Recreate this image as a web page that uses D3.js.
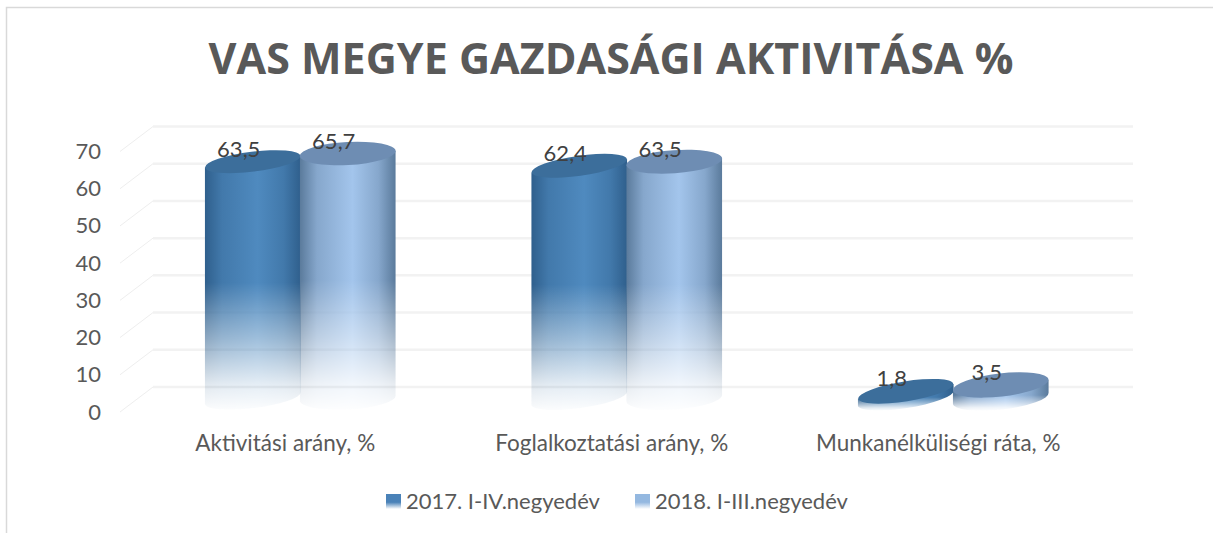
<!DOCTYPE html>
<html>
<head>
<meta charset="utf-8">
<script src="https://cdn.jsdelivr.net/npm/d3@7"></script>
<style>
  html, body { margin: 0; padding: 0; background: #fff; }
  text { font-family: Lato, "Open Sans", sans-serif; fill: #595959; }
</style>
</head>
<body>
<div id="chart"></div>
<script>
// values
const categories = ["Aktivitási arány, %", "Foglalkoztatási arány, %", "Munkanélküliségi ráta, %"];
const seriesNames = ["2017. I-IV.negyedév", "2018. I-III.negyedév"];
const values2017 = [63.5, 62.4, 1.8];
const values2018 = [65.7, 63.5, 3.5];
const yTicks = [0, 10, 20, 30, 40, 50, 60, 70];

const width = 1213, height = 533;

const svg = d3.select("#chart").append("svg")
  .attr("width", width)
  .attr("height", height)
  .style("display", "block");

const defs = svg.append("defs");

// colours per series: edge, centre, top ellipse
const looks = [
  { edge: "#2f5f8c", mid: "#4f8abf", top: "#3c6e9b", ry: 10 },
  { edge: "#5a7a9b", mid: "#a3c5ec", top: "#6e8db3", ry: 11.5 }
];

looks.forEach(function(l, i) {
  const g = defs.append("linearGradient").attr("id", "side" + i);
  g.append("stop").attr("offset", "0%").attr("stop-color", l.edge);
  g.append("stop").attr("offset", "18%").attr("stop-color", d3.interpolateRgb(l.edge, l.mid)(0.6));
  g.append("stop").attr("offset", "55%").attr("stop-color", l.mid);
  g.append("stop").attr("offset", "82%").attr("stop-color", d3.interpolateRgb(l.edge, l.mid)(0.6));
  g.append("stop").attr("offset", "100%").attr("stop-color", l.edge);
});

// fade to white towards the floor
const fade = defs.append("linearGradient").attr("id", "fade").attr("x2", 0).attr("y2", 1);
fade.append("stop").attr("offset", "50%").attr("stop-color", "#fff");
fade.append("stop").attr("offset", "72%").attr("stop-color", "#8c8c8c");
fade.append("stop").attr("offset", "90%").attr("stop-color", "#262626");
fade.append("stop").attr("offset", "100%").attr("stop-color", "#050505");
defs.append("mask").attr("id", "fadeMask")
  .attr("maskContentUnits", "objectBoundingBox")
  .append("rect").attr("width", 1).attr("height", 1).attr("fill", "url(#fade)");

// legend swatches
looks.forEach(function(l, i) {
  const g = defs.append("linearGradient").attr("id", "swatch" + i).attr("x2", 0).attr("y2", 1);
  g.append("stop").attr("offset", "55%").attr("stop-color", i ? "#94b8e0" : "#4a82b8");
  g.append("stop").attr("offset", "100%").attr("stop-color", "#fff");
});

// chart frame, only top and left show
svg.append("path")
  .attr("d", "M6.5,533V7.5H1213")
  .attr("fill", "none")
  .attr("stroke", "#d9d9d9")
  .attr("stroke-width", 1.5);

svg.append("text")
  .attr("x", 611)
  .attr("y", 74)
  .attr("text-anchor", "middle")
  .attr("font-size", 43)
  .attr("font-weight", 700)
  .style("font-family", '"Open Sans", sans-serif')
  .text("VAS MEGYE GAZDASÁGI AKTIVITÁSA %");

// back wall scale
const y = d3.scaleLinear().domain([0, 70]).range([387, 126.5]);
const wallLeft = 153, wallRight = 1133;
const floorDx = -33, floorDy = 25;

const grid = svg.append("g");
grid.selectAll("line.wall").data(yTicks).join("line")
  .attr("class", "wall")
  .attr("x1", wallLeft).attr("x2", wallRight)
  .attr("y1", d => y(d)).attr("y2", d => y(d))
  .attr("stroke", "#f2f2f2").attr("stroke-width", 2.5);
grid.selectAll("line.side").data(yTicks).join("line")
  .attr("class", "side")
  .attr("x1", wallLeft).attr("x2", wallLeft + floorDx)
  .attr("y1", d => y(d)).attr("y2", d => y(d) + floorDy)
  .attr("stroke", "#eeeeee").attr("stroke-width", 1);

// value axis sits in front of the wall
const axisG = svg.append("g")
  .attr("transform", "translate(107," + floorDy + ")")
  .call(d3.axisLeft(y).tickValues(yTicks).tickSize(0).tickPadding(6));
axisG.select(".domain").remove();
axisG.selectAll("text")
  .attr("font-size", 22)
  .style("font-family", 'Lato, "Open Sans", sans-serif')
  .style("fill", "#595959");

const x0 = d3.scaleBand().domain(categories).range([137, 1116.5]).padding(0);
const x1 = d3.scaleBand().domain([0, 1]).range([-95, 95]);

const rx = 48;
const baseDrop = 11;
// tilt of the top ellipses, series by category
const tilts = [[-7, -8, -9], [-3, -4, -6.5]];
const labelDx = -14;

const fmt = d => String(d).replace(".", ",");

[values2017, values2018].forEach(function(vals, s) {
  const col = svg.append("g");
  const ry = looks[s].ry;
  vals.forEach(function(v, c) {
    const cx = x0(categories[c]) + x0.bandwidth() / 2 + x1(s) + x1.bandwidth() / 2;
    const yTop = y(v) + baseDrop;
    const yBase = y(0) + baseDrop;
    const tilt = tilts[s][c];
    const lift = rx * Math.sin(tilt * Math.PI / 180);

    col.append("path")
      .attr("d", "M" + (cx - rx) + "," + (yTop - lift)
        + "L" + (cx - rx) + "," + (yBase - lift)
        + "A" + rx + "," + ry + " " + tilt + " 0 0 " + (cx + rx) + "," + (yBase + lift)
        + "L" + (cx + rx) + "," + (yTop + lift) + "Z")
      .attr("fill", "url(#side" + s + ")")
      .attr("mask", "url(#fadeMask)");

    col.append("ellipse")
      .attr("cx", cx).attr("cy", yTop)
      .attr("rx", rx).attr("ry", ry)
      .attr("transform", "rotate(" + tilt + " " + cx + " " + yTop + ")")
      .attr("fill", looks[s].top);
  });
});

// data labels go on top of every cylinder
[values2017, values2018].forEach(function(vals, s) {
  vals.forEach(function(v, c) {
    const cx = x0(categories[c]) + x0.bandwidth() / 2 + x1(s) + x1.bandwidth() / 2;
    svg.append("text")
      .attr("x", cx + labelDx)
      .attr("y", y(v) + baseDrop - 5)
      .attr("text-anchor", "middle")
      .attr("font-size", 22)
      .style("fill", "#404040")
      .text(fmt(v));
  });
});

// category labels
svg.selectAll("text.cat").data(categories).join("text")
  .attr("class", "cat")
  .attr("x", d => x0(d) + x0.bandwidth() / 2 - 15)
  .attr("y", 451)
  .attr("text-anchor", "middle")
  .attr("font-size", 22.5)
  .text(d => d);

// legend
const legendX = [386, 635];
seriesNames.forEach(function(name, i) {
  svg.append("rect")
    .attr("x", legendX[i]).attr("y", 494)
    .attr("width", 15).attr("height", 15)
    .attr("fill", "url(#swatch" + i + ")");
  svg.append("text")
    .attr("x", legendX[i] + 20)
    .attr("y", 509)
    .attr("font-size", 22)
    .text(name);
});
</script>
</body>
</html>
